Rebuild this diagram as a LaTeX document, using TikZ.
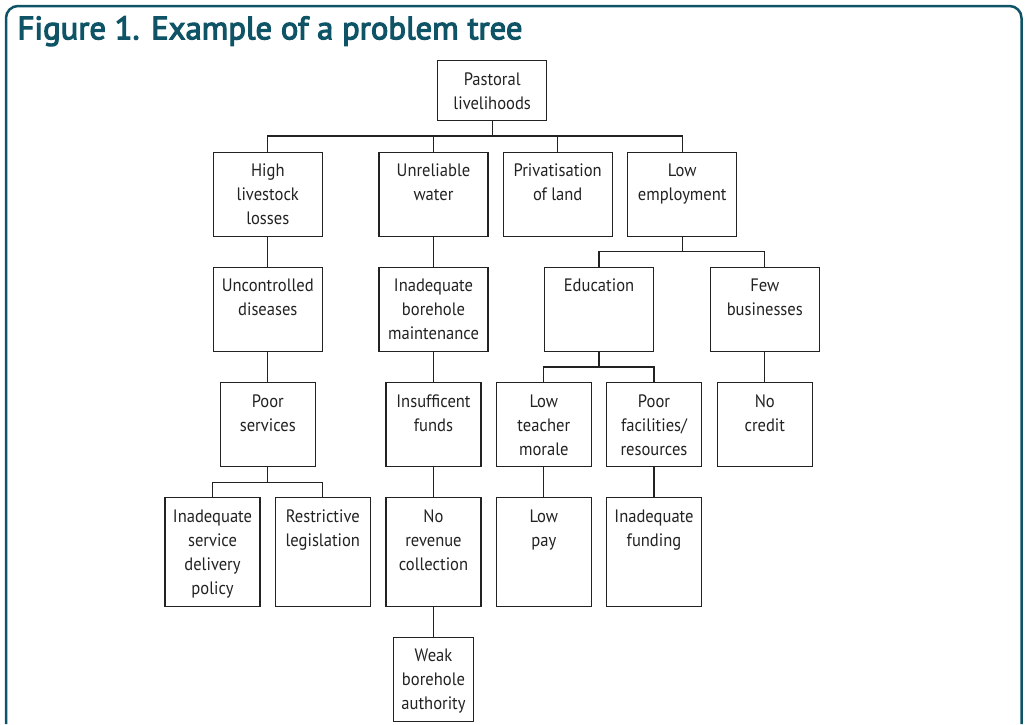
\documentclass[tikz,border=0pt]{standalone}
\usepackage{fontspec}
\setmainfont{PT Sans}
\newfontfamily\boxfont[FakeStretch=0.92]{PT Sans}
\newfontfamily\titlefont[FakeBold=3.5]{PT Sans}
\definecolor{frameteal}{RGB}{14,84,102}
\definecolor{ink}{RGB}{34,34,34}
\newcommand{\mybox}[3]{\parbox[t][#2][t]{#1}{\boxfont\fontsize{18}{24}\selectfont\centering\rule{0pt}{24.5pt}#3\par}}
\tikzset{
  box/.style={draw=ink, line width=1.1pt, inner sep=0pt, anchor=north, text=ink},
  link/.style={draw=ink, line width=1.1pt},
  frameline/.style={draw=frameteal, line width=2.5pt, rounded corners=12pt},
}
\begin{document}
\begin{tikzpicture}[x=1pt,y=-1pt]
\useasboundingbox (0,0) rectangle (1030,724);
% frame and title
\draw[frameline] (6,724) -- (6,6) -- (1021.5,6) -- (1021.5,724);
\node[anchor=base west, inner sep=0pt, text=frameteal] (title) at (17.3,39.3)
  {\resizebox{505pt}{\height}{\titlefont\fontsize{32.4}{36}\selectfont Figure 1. Example of a problem tree}};
% level 0
\node[box] (past) at (492.2,60.3) {\mybox{109pt}{60pt}{Pastoral\\livelihoods}};
% level 1
\node[box] (high)  at (267.8,151.7) {\mybox{109pt}{84pt}{High\\livestock\\losses}};
\node[box] (water) at (433.5,151.7) {\mybox{109pt}{84pt}{Unreliable\\water}};
\node[box] (priv)  at (557.7,151.7) {\mybox{109pt}{84pt}{Privatisation\\of land}};
\node[box] (emp)   at (682.2,151.7) {\mybox{109pt}{84pt}{Low\\employment}};
% level 2
\node[box] (dis)  at (267.8,266.7) {\mybox{109pt}{84pt}{Uncontrolled\\diseases}};
\node[box] (bore) at (433.5,266.7) {\mybox{109pt}{84pt}{Inadequate\\borehole\\maintenance}};
\node[box] (edu)  at (599,266.7)   {\mybox{109pt}{84pt}{Education}};
\node[box] (biz)  at (764.8,266.7) {\mybox{109pt}{84pt}{Few\\businesses}};
% level 3
\node[box] (serv)   at (267.8,382.3) {\mybox{95pt}{84pt}{Poor\\services}};
\node[box] (funds)  at (433.5,382.3) {\mybox{95pt}{84pt}{Insufficent\\funds}};
\node[box] (morale) at (543.8,382.3) {\mybox{95pt}{84pt}{Low\\teacher\\morale}};
\node[box] (fac)    at (654,382.3)   {\mybox{95pt}{84pt}{Poor\\facilities/\\resources}};
\node[box] (cred)   at (764.8,382.3) {\mybox{95pt}{84pt}{No\\credit}};
% level 4
\node[box] (pol)   at (212.5,497.3) {\mybox{95pt}{108.5pt}{Inadequate\\service\\delivery\\policy}};
\node[box] (leg)   at (322.8,497.3) {\mybox{95pt}{108.5pt}{Restrictive\\legislation}};
\node[box] (rev)   at (433.5,497.3) {\mybox{95pt}{108.5pt}{No\\revenue\\collection}};
\node[box] (pay)   at (543.8,497.3) {\mybox{95pt}{108.5pt}{Low\\pay}};
\node[box] (fund2) at (654,497.3)   {\mybox{95pt}{108.5pt}{Inadequate\\funding}};
% level 5
\node[box] (weak) at (433.5,636.7) {\mybox{80pt}{84pt}{Weak\\borehole\\authority}};
% bus levels
\coordinate (y0) at (0,136);
\coordinate (y1) at (0,251.7);
\coordinate (y2) at (0,367);
\coordinate (y3) at (0,482.3);
% connectors
\foreach \c in {high,water,priv,emp}
  \draw[link] (past.south) -- (past.south |- y0) -| (\c.north);
\draw[link] (high.south) -- (dis.north);
\draw[link] (dis.south) -- (serv.north);
\foreach \c in {pol,leg}
  \draw[link] (serv.south) -- (serv.south |- y3) -| (\c.north);
\draw[link] (water.south) -- (bore.north);
\draw[link] (bore.south) -- (funds.north);
\draw[link] (funds.south) -- (rev.north);
\draw[link] (rev.south) -- (weak.north);
\foreach \c in {edu,biz}
  \draw[link] (emp.south) -- (emp.south |- y1) -| (\c.north);
\foreach \c in {morale,fac}
  \draw[link] (edu.south) -- (edu.south |- y2) -| (\c.north);
\draw[link] (biz.south) -- (cred.north);
\draw[link] (morale.south) -- (pay.north);
\draw[link] (fac.south) -- (fund2.north);
\end{tikzpicture}
\end{document}
